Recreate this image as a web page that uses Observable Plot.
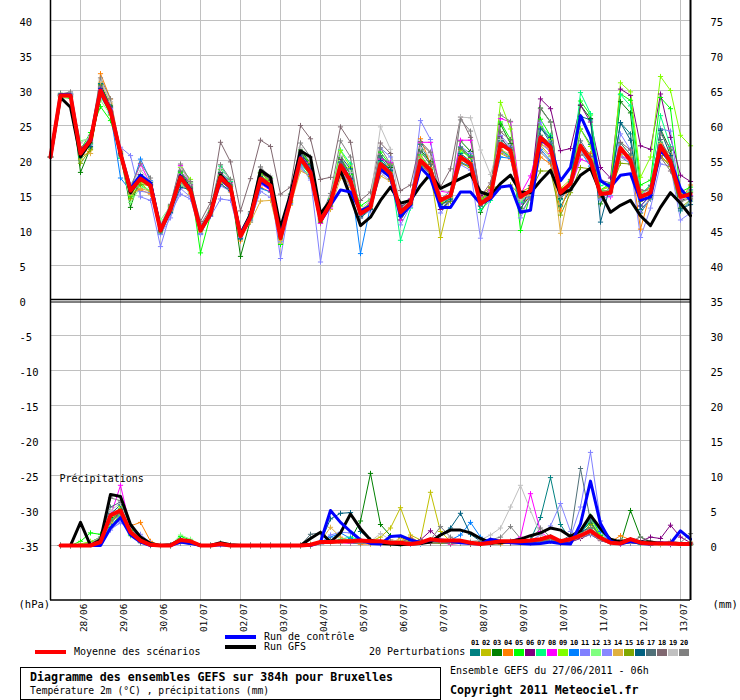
<!DOCTYPE html>
<html><head><meta charset="utf-8">
<script src="https://cdn.jsdelivr.net/npm/d3@7"></script>
<script src="https://cdn.jsdelivr.net/npm/@observablehq/plot@0.6"></script>
<style>
body{margin:0;background:#fff;}
#wrap{position:relative;width:740px;height:700px;background:#fff;font-family:"DejaVu Sans Mono",monospace;color:#000;overflow:hidden;}
#wrap svg{position:absolute;left:0;top:0;}
.lg{position:absolute;white-space:pre;line-height:1;}
</style></head><body><div id="wrap"></div>
<script>
// ---- axis / labels ----
const dateLabels = ["28/06","29/06","30/06","01/07","02/07","03/07","04/07","05/07","06/07","07/07","08/07","09/07","10/07","11/07","12/07","13/07"];
const leftTicks = [40,35,30,25,20,15,10,5,0,-5,-10,-15,-20,-25,-30,-35];
const pertNames = ["01","02","03","04","05","06","07","08","09","10","11","12","13","14","15","16","17","18","19","20"];
const pertColors = ["#008080","#c0c000","#008000","#ff8000","#00ff00","#800080","#00ff80","#ff00ff","#80ff00","#0080ff","#8080ff","#80ff80","#8888ff","#e0b040","#80a800","#006080","#507078","#806870","#c0c0c0","#808080"];

// ---- temperature 2m (°C), 6-hourly, 65 steps ----
const tMean = [20.5,29.3,29.3, 21,22.9,30,27.1, 21,15.7,17.4,16.4, 10,13.1,17.6,15.7, 10,12.4,17.6,16.2, 9.2,11.9,17.4,16.4, 8.9,14.3,20.3,18.3, 11.4,13.9,19.3,17.1, 12.4,13.3,19.5,18.1, 12.6,13.9,20,18.6, 14.3,15,20.5,19.5, 13.8,14.8,22.4,21.4, 14.8,15.7,23.3,21.9, 15.4,16.7,22.1,20, 15.2,15.4,21.8,20, 14.8,15.4,22.1,19.8, 14.8,15.2];
const tCtrl = [20.5,29.4,29.4, 21.2,23,30.2,27.3, 21,16,17.9,16.8, 10.2,13,17.8,15.8, 10.2,12.3,17.4,16, 9.5,12,17,16, 9.2,14.6,20.5,18.5, 11.3,13.6,15.8,15.5, 12.8,13.5,18.8,17.6, 12,13.6,19,17.5, 13.3,13.3,15.5,15.5, 13.8,14.5,16.2,16.4, 12.6,12.9,22.9,22.1, 17.1,19,26.4,23.3, 17.1,16.2,17.9,18.1, 14.3,14.8,21.4,20, 16,14.3];
const tGfs = [20.5,29,27.6, 20.5,22.7,29.8,27, 21,15.4,17.7,16.7, 10,13,17.8,15.8, 10,12.5,17.9,16.2, 9.5,12.3,18.6,17.6, 10.4,15.2,21.4,20.5, 12.4,14.3,18.6,14.8, 10.7,11.9,14.3,16.2, 13.9,14.3,16.4,18.1, 16,16.7,17.4,18.1, 15.5,15,16.7,17.9, 15.5,15.4,17.1,18.6, 15.2,15.8,17.9,18.9, 15.4,12.6,13.6,14.3, 12.1,10.7,13.3,15.4, 13.9,12.1];
const t01 = [20.5,29.5,29.6, 21.8,22.5,31,27.5, 20.5,15.2,17,16.5, 9.5,12.5,16.8,15.6, 10.2,12,18.3,17, 8.8,11.8,17.9,16.8, 9.5,14.5,21,18.6, 11,13.5,19.8,17.5, 11.8,13,20.5,18.5, 12.2,14.5,22.3,19.5, 13.5,14.8,21,19.9, 13.5,15.2,21.5,20.5, 14.8,16,24.8,22.5, 13.5,15.8,24.5,22.3, 14.8,16.2,25.4,23.8, 13,14.5,22.5,19.8, 12.8,14.2];
const t02 = [20.5,29.3,29.2, 20.2,21.5,29.5,26.8, 21.2,14.5,16.8,15.5, 10.5,13.3,17.2,15.2, 9.8,12.8,16.8,15.5, 9.5,12.2,17.8,16.9, 8.2,14,19.8,18, 11.8,14.2,18.5,16.5, 13,13.8,18.8,17.4, 13.2,14.2,19.3,18.2, 9,15,20.4,19, 14.5,15.3,21,20.3, 15.5,16.2,22.2,20.6, 16,17.3,21.4,19.6, 15.8,16.2,20.9,19.4, 15.5,16,21.5,19.2, 15.2,15.6];
const t03 = [20.5,29.6,29.5, 18.3,21.8,30.8,27.9, 20.8,13.3,17.8,16.9, 9.8,13.5,18.4,16.2, 9.5,12.4,18.2,16.5, 6.3,11.5,18.2,17.5, 9.2,15.2,21.5,19.6, 11.2,14.3,20.5,18, 12,13.8,20.7,19, 11.5,13.7,21.5,19.8, 13,14.2,22.8,21.3, 12.6,15,25.2,22.4, 13.2,15,27.5,25.5, 14.6,16.8,27.9,26, 13.8,16.4,28.4,26.8, 12.5,14.6,24.5,21.5, 14.2,14.9];
const t04 = [20.5,29.4,29.5, 22,21,32.4,28.8, 21.5,15.4,15.8,15.2, 10.3,12.8,17,15.5, 10.5,12.5,17,16, 8.5,11.8,16.2,15.5, 8.8,14,20.8,19.7, 11.5,13.5,18.4,16.2, 12.9,13.5,19,19.5, 12.5,14,23.1,19.5, 14.2,14.6,19.8,19, 14.5,14.8,21.4,20.2, 13.8,14.8,20.5,19.5, 12.8,17,21.8,21, 14.8,15.6,21.2,20.5, 10.2,15.5,20.6,19.4, 14.2,16.5];
const t05 = [20.5,29,28.9, 21.5,24,27.7,25.7, 20.8,14.8,16.5,15.5, 10,13.2,18.3,16.8, 6.8,12.2,18.7,17.3, 9.5,12,18.2,17, 8,14.3,21.2,19.5, 11.5,14,20.2,18, 13.5,14.5,21.2,19.3, 12.3,14.2,20.8,18.8, 13,14.5,21.8,20.6, 14.5,15.3,25.5,23, 10,15.2,25.9,23.5, 15.5,17,28.5,26.5, 15.8,16.7,29.5,28.6, 16.5,17.2,29,27.4, 15.5,16.2];
const t06 = [20.5,29.4,29.4, 21.2,23.2,29.8,27, 21,16.3,18,16.5, 10.2,13,17.8,16, 10.3,12.6,18.1,16.8, 9.8,12.5,18.3,17.2, 9.8,14.8,21.2,19, 12,14.5,20.2,17.4, 12.4,13.6,18.5,17.5, 13.5,14,19.6,18, 13,14.3,21.6,20.4, 15,16.2,23.5,21.2, 13.8,15.5,28.8,27.4, 21.4,21.7,27.9,25.5, 19,17.5,30.2,29.3, 22.1,21.6,29.5,23.3, 17.9,17];
const t07 = [20.5,29.2,29.1, 20.5,22.3,29.5,26.6, 20.3,15.8,17.9,16.2, 10.8,13.6,18.5,16.6, 10,12.9,19.2,17, 9,11.7,17.5,16.5, 8.8,13.8,19.3,17.5, 12,14.6,21.5,19.5, 12.5,13.8,19.8,18.6, 8.6,13.2,19,17.4, 14,14.6,21.2,20.7, 13,14.3,21.6,20.5, 14,15.5,24.8,23.6, 14.4,17.2,29.7,26.7, 16.4,16.8,29.4,27.8, 15.2,16.5,26.4,22, 14.7,15.8];
const t08 = [20.5,29.3,29.4, 21.3,23,30.2,27.4, 21.5,16,19.5,16.6, 10.5,13.4,19.3,16.5, 10.2,12,17.3,16.3, 9.3,12,16.7,15.7, 9.4,14.6,20.7,18.2, 11,13.2,18.8,17.1, 12.8,13.9,20.2,19.7, 11.5,14.5,22.6,22.6, 15.6,15.4,22.9,22.9, 14.8,15.8,26,25.5, 15.2,17.8,23.2,21, 15.1,16,20.2,19.6, 15.2,14.8,20.5,20.2, 13.5,15,22,20.2, 14.5,15];
const t09 = [20.5,29.3,29.2, 20.8,22.5,29.3,26.5, 20.8,15,17,16.2, 9.8,12.8,19,17.3, 9.6,12.2,17.8,16.3, 9.6,12.4,18.2,17, 9,14.2,20.5,18.9, 11.5,14.5,21.4,19, 12.6,14.2,19.5,18.3, 12.3,13.8,19.5,18.5, 14,14.9,21.5,20.3, 14.6,15.3,28.3,24.5, 14.7,15.8,24.8,23, 16,16.5,24.5,22, 15.8,16.4,31.1,29.8, 17.6,20.5,32,30, 23.6,22.1];
const t10 = [20.5,29.3,29.3, 21,22.8,29.8,26.8, 17.5,15.7,20.2,17.1, 10.3,13,16.8,15.6, 9.5,12.3,17.4,16.2, 9.5,11.2,16,15.5, 9.5,13.8,19.5,18, 11.7,14.4,18.7,17.3, 6.7,13.5,19,17.9, 13.2,13.6,18.8,17.8, 14.5,14.8,19.7,19.2, 14.3,14.8,20.5,20.3, 14.6,14.8,21.6,20, 15.6,16.9,21.3,19.2, 15.8,15.5,20.5,19.6, 14.5,15.5,21.3,19.5, 15.5,14.9];
const t11 = [20.5,29.3,29.3, 21.5,22.8,29,27, 21.9,20.7,14.8,14.3, 7.7,12.5,15.2,14.5, 9.6,12,14.5,14.3, 9,12.4,16.5,16.5, 6,14.5,18.8,17.5, 5.5,14,17.8,16.5, 11.8,13.7,21.8,20.5, 10.8,13.5,25.7,23, 12.5,14.3,22,21, 15.5,14.9,23.6,22, 11.8,15.1,25.4,22.5, 15.1,16.2,22.2,20.4, 14.4,15.8,23.8,21.5, 12.6,14.6,24.5,24.2, 14.2,15.8];
const t12 = [20.5,29.2,29, 22.8,23.2,28.6,26.5, 20.5,14,16.2,15.8, 11.5,13.5,16.5,15.6, 10.6,12.6,17.2,16, 9.8,12.6,18.5,17.6, 9.4,14.6,20.5,18.6, 11.3,13.7,19,17, 12.6,13.2,19.3,18, 12.9,14.1,20.3,18.9, 14.3,14.6,20.2,19.2, 14.1,15,22.8,21.5, 14.2,15.2,23.6,22.4, 15.8,16.6,22,20.3, 15.8,15.4,22.5,20.8, 14.6,15.2,22.7,20.2, 15.1,15.6];
const t13 = [20.5,29.5,29.6, 21.4,22.2,30.5,27.4, 20.8,16.4,15.6,15.4, 9.4,11.8,16,14.8, 9.4,12.2,16.4,15.6, 9,11.5,15.6,14.7, 8.4,13.8,19.2,17.2, 11.6,13.9,18.5,16.5, 12.3,12.8,18.3,17, 12.6,13.3,18.9,17.6, 13.6,14.3,19.4,18.6, 8.9,14.7,21.2,20.4, 13.8,15,22.4,21.3, 15.2,16.4,21.3,19.8, 14.4,15,21,19.4, 9,13.2,19.5,19.2, 11.5,12.5];
const t14 = [20.5,29.1,29, 20.8,21,31.2,28.2, 21.3,15.2,16,15.6, 10.4,12.9,16.8,15.3, 10,12.4,17.2,15.9, 9.3,11.2,14.2,14.3, 8.6,13.6,18.5,17.8, 12,13,17.5,16.8, 13,13.4,17.8,17, 12.8,13.9,20.5,19, 14.4,14.7,20.5,19.7, 14.8,16.3,21.6,20.8, 14.5,15,22.4,21.6, 9.6,16.5,21.8,20.3, 15,15.4,21.5,20.6, 14.2,15.3,22.4,20.8, 14.7,15.4];
const t15 = [20.5,29.2,29.1, 19.6,21.6,29.4,27.6, 21.2,14.6,16.6,16.4, 10.6,13.5,17.3,15.9, 10.3,12.7,17.6,16.3, 9.4,11.9,17.2,16.2, 9.1,14.1,19.9,17.7, 11.2,13.5,18.8,17, 12.6,13.5,19.3,17.3, 12.7,14.1,20,18.4, 13.8,14.2,19.6,19, 14.2,16.2,16.2,16.5, 15,15.5,18.5,18.5, 12.2,15.4,19,18.8, 15.6,15.7,19.6,19.5, 14.2,14.8,20.7,19.1, 13.2,14.4];
const t16 = [20.5,29.4,29.5, 21.6,22,30.3,27.7, 21,15.6,17.7,16.8, 10,12.6,16.2,15.8, 10.6,12.6,16.6,15.7, 8.8,12.3,17.7,16.7, 9.6,14.8,20.9,19.4, 11.7,14.2,20.6,18.8, 12,13.1,20,18.6, 12,13.9,19.2,17.7, 13.7,14.5,20.7,19.3, 13.5,15.4,22.8,21.5, 12.8,16.4,24.5,23.3, 14.5,16.4,26.3,25.8, 11.2,16.6,25.4,22.9, 13.5,15,24.3,20.7, 13.1,13.7];
const t17 = [20.5,29.3,29.4, 21.9,22.5,29.9,26.9, 20.8,15.5,17.3,16.6, 9.8,13.2,17.5,16.2, 10.1,12.1,17.3,16.5, 9.2,12.1,17.6,16.6, 9.3,14.3,20.7,18.8, 11.8,14.3,19.7,18.2, 12.6,13.6,20.7,19.2, 13.3,14.4,21.3,19.4, 14.4,15.1,21.9,20.6, 14.1,15.4,23.1,21.8, 14.9,15.2,23.6,22.4, 15.2,16.4,22.8,20.6, 15,15.6,22.5,20.8, 14.9,16.4,23,20.2, 15.1,15.4];
const t18 = [20.5,29.2,29.1, 21.8,23.1,30.5,27.6, 21.2,15.8,17.5,17, 10.6,12.8,18.5,16.5, 11.3,14,22.6,19.8, 12.8,17.4,22.9,22, 15.2,16.2,25,23.1, 17.3,17.6,24.8,22.6, 14.3,15.5,22.5,21, 15.7,16.5,22.7,21.2, 16.2,18.8,26.2,23.3, 14.8,16.8,24.1,22.9, 14.6,15.6,21.2,19.8, 15.4,16,20.8,20.6, 17.2,16.8,22.6,21.5, 15.8,15.6,20.5,18.5, 15.1,14.8];
const t19 = [20.5,29.3,29.5, 22.5,23.4,31.5,28.4, 21.5,16.6,18.6,17, 10.8,13.8,19.1,16.8, 10.6,13,18.8,17.2, 9.8,12.6,19,17.8, 9.6,15,21.8,19.8, 11.5,14.8,20.6,18.3, 12.8,14.6,24.8,21.6, 13,14.4,21.8,20.5, 15.8,15.5,26.2,26.1, 21.5,18,23,21.3, 14.5,15.2,21.8,20.5, 14.8,16,21.2,19.8, 15.3,15.8,20.5,19.8, 14.6,15.4,21.4,19.6, 14.6,14.5];
const t20 = [20.5,29.5,29.8, 21.2,23.6,31.8,28.8, 20.8,16.2,19.6,17.5, 10.6,13.7,19.5,17, 10.8,13.2,19.4,17.3, 9.5,12.7,19.1,17.4, 9.3,15.2,22.5,20.5, 11.9,15.3,22.8,20.5, 11.8,14.2,21.8,19.5, 12.1,14.1,22.4,21.1, 14.5,15.6,25.8,24.2, 13.6,15.4,26.5,25.6, 12.5,14.6,27.4,25.5, 14.9,15.8,21.5,19.8, 15.4,15.5,21.5,20.3, 14.7,15.6,23.8,21.8, 14.1,14.6];

// ---- precipitation (mm per 6h), 65 steps ----
const rMean = [null,0,0,0,0, 0.5,4.3,5,1.9,0.7, 0.1,0,0,0.8,0.6, 0,0,0.2,0,0, 0,0,0,0,0, 0,0.1,0.5,0.5,0.6, 0.6,0.7,0.6,0.6,0.4, 0.4,0.2,0.4,0.9,0.7, 0.7,0.7,0.4,0.2,0.4, 0.6,0.6,0.6,0.7,0.9, 1.3,0.6,0.9,1.4,2.1, 1.1,0.4,0.3,0.9,0.4, 0.3,0.3,0.3,0.2,0.2];
const rCtrl = [null,0,0,0,0, 0,2.5,4,1.5,0.5, 0,0,0,0.5,0.3, 0,0,0.1,0,0, 0,0,0,0,0, 0,0,0.5,5,3.3, 2,0.8,0.3,0.2,1.3, 1.4,0.8,0.4,0.8,0.8, 0.6,0.4,0.3,0.2,0.9, 0.6,0.4,0.3,0.2,0.3, 0.5,0.3,0.2,3.1,9.2, 3.1,0.6,0.2,0.6,0.3, 0.2,0.4,0.3,2.1,0.9];
const rGfs = [null,0,0,3.3,0, 0.8,7.3,7,3,1.2, 0.3,0,0.1,0.8,0.5, 0,0,0.4,0.1,0, 0,0,0,0,0, 0,1,1.9,0.5,1.8, 4.5,2.4,0.8,0.3,0.2, 0.1,0.2,0.3,0.5,1.5, 2.2,2.2,1.8,1,0.4, 0.4,0.6,0.9,1.4,1.8, 2.5,2.2,1.3,2.1,4.3, 2.4,0.9,0.5,0.9,0.5, 0.5,0.3,0.3,0.3,0.3];
const r01 = [null,0,0,0,0.2, 0.6,3.8,4.6,1.8,0.6, 0.1,0,0,0.6,0.4, 0,0,0.3,0,0, 0,0,0,0,0, 0,0,0.4,0.8,0.6, 0.5,0.4,0.6,0.3,0.2, 0.3,0.2,0.4,0.8,0.5, 0.3,0.4,0.3,0.2,0.3, 0.4,0.6,0.5,0.8,4, 9.7,3,0.8,1.2,1.8, 0.9,0.3,0.2,0.4,0.2, 0.1,0.2,0.2,0.1,0.1];
const r02 = [null,0,0,0.1,0.4, 1,3.2,4.8,2,0.8, 0.2,0,0,0.4,0.2, 0,0,0.2,0,0, 0,0,0,0,0, 0,0.2,0.5,0.3,0.4, 0.6,0.8,0.6,1.2,2.5, 5.4,1.5,0.8,7.6,2, 0.6,0.4,0.2,0.3,0.2, 0.4,0.3,0.5,0.6,0.8, 0.6,0.4,0.5,1.8,2.6, 1.2,0.5,0.2,0.6,0.3, 0.2,0.1,0.3,0.2,0.1];
const r03 = [null,0,0,0,0.5, 1.2,4,5.2,2.2,0.5, 0,0,0,0.5,0.3, 0,0,0.2,0,0, 0,0,0,0,0, 0,0,0.3,0.6,0.5, 0.8,3.5,10.3,3,1.4, 1.2,0.6,0.3,0.5,0.4, 0.3,0.5,0.4,0.2,0.2, 0.3,0.5,0.4,0.6,0.8, 1.2,0.5,0.8,2,3.2, 1.4,0.4,0.3,5,1.2, 0.5,0.3,0.2,0.4,0.2];
const r04 = [null,0,0,0,0.2, 0.8,2.5,3.8,2.8,3.3, 0.6,0,0,0.4,0.3, 0,0,0.2,0,0, 0,0,0,0,0, 0,0,0.3,0.5,0.4, 0.4,0.2,0.2,0.5,0.8, 0.6,1.2,0.4,0.3,0.5, 0.2,0.3,0.4,0.5,0.3, 0.2,0.4,0.3,0.5,0.6, 0.8,0.4,1.2,1.5,1.8, 0.8,0.5,1.4,0.8,0.4, 0.3,0.5,0.3,0.2,0.2];
const r05 = [null,0,0,0.6,1.8, 1.6,2.6,4.5,1.4,0.5, 0.2,0,0,1.3,0.8, 0,0,0.3,0,0, 0,0,0,0,0, 0,0,0.2,0.4,0.8, 0.6,0.4,0.5,0.4,0.3, 0.2,0.3,0.5,0.6,0.4, 0.5,0.4,0.3,0.4,0.3, 0.3,0.5,0.4,0.6,0.8, 0.9,0.4,0.8,1.5,4.2, 1.5,0.4,0.3,0.5,0.2, 0.2,0.3,0.2,0.2,0.1];
const r06 = [null,0,0,0,0.2, 0.5,3,5,1.8,0.4, 0,0,0,0.6,0.3, 0,0,0.2,0,0, 0,0,0,0,0, 0,0,0.2,0.4,0.5, 0.4,0.3,0.5,0.6,0.4, 0.5,0.4,0.8,2.1,0.8, 0.3,0.4,0.2,0.3,0.2, 0.4,0.3,0.5,0.4,0.6, 0.8,0.3,0.5,1,1.6, 0.7,0.3,0.4,0.8,0.6, 1.2,1,2.9,1.2,0.4];
const r07 = [null,0,0,0,0.4, 1,3.8,4.2,1.6,0.4, 0.1,0,0,0.8,0.5, 0,0,0.2,0,0, 0,0,0,0,0, 0,0,0.3,0.5,0.9, 1.2,0.8,0.5,0.4,0.3, 0.5,0.4,0.3,0.4,0.5, 0.4,0.3,0.5,0.4,0.3, 0.5,0.4,0.6,0.8,0.6, 1,0.6,0.9,1.8,3.5, 1.2,0.5,0.4,0.6,0.3, 0.2,0.4,0.2,0.1,0.1];
const r08 = [null,0,0,0,0.3, 0.7,4.2,8.6,2.5,0.6, 0.1,0,0,0.5,0.3, 0,0,0.3,0,0, 0,0,0,0,0, 0,0,0.2,0.4,0.4, 0.3,0.4,0.3,0.2,0.5, 0.4,0.3,0.5,0.6,0.4, 0.2,0.3,0.4,0.3,0.5, 0.4,0.6,1.2,7.4,2, 0.8,0.5,0.6,1.4,2.2, 0.8,0.3,0.2,0.4,0.3, 0.2,0.2,0.1,0.2,0.1];
const r09 = [null,0,0,0.2,0.6, 0.9,3.4,5.6,2.3,0.8, 0.2,0,0,0.7,0.6, 0,0,0.3,0,0, 0,0,0,0,0, 0,0,0.3,0.6,0.7, 0.9,0.6,0.4,0.3,0.4, 0.6,0.5,0.4,0.3,0.4, 0.4,0.5,0.3,0.4,0.3, 0.5,0.4,0.5,0.6,0.9, 1.1,0.6,0.7,1.6,4, 1.3,0.4,0.3,0.7,0.4, 0.3,0.3,0.2,0.2,0.1];
const r10 = [null,0,0,0,0.2, 0.6,3,4.8,1.9,0.5, 0,0,0,0.4,0.3, 0,0,0.2,0,0, 0,0,0,0,0, 0,0,0.4,1.2,1.8, 1,0.6,0.4,0.3,0.2, 0.3,0.4,0.2,0.5,0.6, 0.8,1.5,3.3,1.2,0.5, 0.3,0.4,0.5,0.6,0.5, 0.7,0.4,0.6,1.5,4, 2,0.4,0.3,0.6,0.3, 0.3,0.2,0.4,0.3,0.2];
const r11 = [null,0,0,0,0.1, 0.4,2.2,3.4,3,1.2, 0.3,0,0,0.3,0.2, 0,0,0.1,0,0, 0,0,0,0,0, 0,0,0.4,1.5,1.9, 1.8,0.6,0.4,0.3,0.2, 0.3,0.2,0.4,0.3,0.5, 0.4,0.3,0.5,0.4,0.3, 0.3,0.5,0.4,0.6,0.8, 1,0.6,1.2,5.5,13.3, 3.5,0.6,0.3,0.5,0.3, 0.2,0.3,0.2,0.2,0.1];
const r12 = [null,0,0,0.1,0.3, 0.8,2.8,4,1.5,0.6, 0.1,0,0,1.5,0.9, 0,0,0.3,0,0, 0,0,0,0,0, 0,0,0.2,0.4,0.5, 0.5,0.3,0.4,0.6,0.5, 0.4,0.5,0.3,0.4,0.3, 0.3,0.4,0.3,0.5,0.4, 0.3,0.5,0.6,0.5,0.7, 0.9,0.5,0.7,1.4,2.4, 0.9,0.4,0.3,0.5,0.2, 0.2,0.3,0.2,0.2,0.1];
const r13 = [null,0,0,0,0.2, 0.5,2.4,3.2,2.5,1.6, 0.4,0,0,0.5,0.2, 0,0,0.1,0,0, 0,0,0,0,0, 0,0,0.2,0.5,0.6, 0.4,0.3,0.3,0.2,0.4, 0.5,0.4,0.3,0.5,0.4, 0.3,0.5,0.4,0.3,0.4, 0.5,0.4,0.6,0.7,1.5, 2.8,6,2,1.2,1.5, 0.8,0.4,0.3,0.5,0.3, 0.3,0.2,0.2,0.1,0.2];
const r14 = [null,0,0,0,0.2, 0.6,3.3,4.4,2,0.5, 0.1,0,0,0.6,0.4, 0,0,0.2,0,0, 0,0,0,0,0, 0,0,0.6,2.6,1.2, 0.6,0.4,0.3,0.5,0.4, 1,0.5,0.4,0.3,0.4, 0.5,0.4,0.3,0.5,0.4, 0.4,0.3,0.5,0.7,0.6, 0.8,0.5,0.7,1.2,2, 0.9,0.5,0.8,0.6,0.4, 0.3,0.4,0.3,0.2,0.5];
const r15 = [null,0,0,0,0.3, 0.7,3.6,4.9,2.1,0.7, 0.1,0,0,0.6,0.4, 0,0,0.2,0,0, 0,0,0,0,0, 0,0,0.3,0.5,0.6, 0.7,0.5,0.4,0.3,0.2, 0.4,0.3,0.5,0.4,0.3, 0.4,0.3,0.4,0.3,0.5, 0.4,0.5,0.4,0.6,0.7, 0.9,0.5,0.8,1.6,3, 1.2,0.5,0.3,0.5,0.3, 0.2,0.3,0.2,0.1,0.2];
const r16 = [null,0,0,0,0.2, 0.6,4.5,5.8,2.4,0.6, 0.1,0,0,0.9,0.5, 0,0,0.2,0,0, 0,0,0,0,0, 0,0,0.5,3.8,4.6, 4.7,2,0.8,0.5,0.4, 0.3,0.5,0.6,0.8,1.5, 2.5,4.6,1.6,0.6,0.3, 0.4,0.3,0.5,0.7,0.9, 1.2,0.6,1,2,2.5, 1.1,0.4,0.3,0.4,0.3, 0.3,0.2,0.2,0.1,0.2];
const r17 = [null,0,0,0,0.3, 0.9,5.5,6.2,2.6,0.8, 0.2,0,0,0.4,0.3, 0,0,0.2,0,0, 0,0,0,0,0, 0,1.6,1.8,0.8,0.5, 0.4,0.3,0.5,0.4,0.3, 0.5,0.3,0.4,0.6,0.4, 0.3,0.5,0.4,0.3,0.4, 0.5,0.4,0.6,0.5,0.8, 1,0.6,1.5,11,3.5, 1,0.4,0.3,0.5,0.3, 0.4,0.3,0.2,0.2,0.2];
const r18 = [null,0,0,0,0.2, 0.6,3.5,4.5,1.8,0.5, 0.1,0,0,0.4,0.2, 0,0,0.2,0,0, 0,0,0,0,0, 0,0,0.3,0.4,0.5, 0.4,0.3,0.5,0.3,0.4, 0.5,1,0.4,0.3,0.4, 0.3,0.4,0.5,0.4,0.3, 0.4,0.3,0.5,0.4,0.6, 0.8,0.4,0.6,1.1,1.6, 0.7,0.3,0.8,0.5,0.4, 0.3,0.3,0.6,0.4,0.2];
const r19 = [null,0,0,0,0.4, 1.2,5,6,2.4,0.8, 0.2,0,0,0.5,0.3, 0,0,0.2,0,0, 0,0,0,0,0, 0,0,0.2,0.4,0.5, 0.4,0.5,0.6,1.7,0.8, 0.5,0.4,0.3,0.6,0.8, 0.5,0.4,0.6,0.8,1.5, 2.5,5.5,8.6,5,1.5, 1,0.6,0.7,1.2,1.8, 0.8,0.4,0.3,0.5,0.4, 0.3,0.2,0.3,0.2,0.2];
const r20 = [null,0,0,0,0.3, 1,6.8,6.4,3,1, 0.2,0,0,0.6,0.4, 0,0,0.2,0,0, 0,0,0,0,0, 0,0,0.3,0.5,0.4, 0.5,0.3,0.4,0.5,0.6, 0.4,0.5,0.6,0.8,2.7, 1.2,0.6,0.4,0.5,0.8, 1.2,2.7,1,0.8,2.5, 1.2,0.6,1,1.8,2.5, 1,0.5,0.4,0.6,1.2, 0.6,0.4,0.5,0.4,1.7];

// ---- build tables ----
const tPert = [t01,t02,t03,t04,t05,t06,t07,t08,t09,t10,t11,t12,t13,t14,t15,t16,t17,t18,t19,t20];
const rPert = [r01,r02,r03,r04,r05,r06,r07,r08,r09,r10,r11,r12,r13,r14,r15,r16,r17,r18,r19,r20];
const PRECIP_OFFSET = 35; // right axis (mm) = left axis + 35
const toRows = (arr, k, off) => arr.map((v, i) => ({i, y: v == null ? null : v - off, m: k, c: pertColors[k]}));
const tRows = tPert.flatMap((a, k) => toRows(a, k, 0));
const rRows = rPert.flatMap((a, k) => toRows(a, k, PRECIP_OFFSET)).filter(d => d.y != null);
const single = (arr, off) => arr.map((v, i) => ({i, y: v == null ? null : v - off})).filter(d => d.y != null);
const dateTicks = dateLabels.map((label, k) => ({i: 3 + 4 * k, label}));
const gridY = leftTicks.filter(v => v !== 0);

const chart = Plot.plot({
  width: 740, height: 632,
  marginLeft: 50, marginRight: 50, marginTop: 0, marginBottom: 32,
  x: {domain: [0, 64], axis: null},
  y: {domain: [-300 / 7, 300 / 7], axis: null},
  color: {type: "identity"},
  style: {fontFamily: "DejaVu Sans Mono", fontSize: "10.5px", background: "white", color: "black"},
  marks: [
    Plot.ruleX(dateTicks, {x: "i", stroke: "#c0c0c0", strokeWidth: 1}),
    Plot.ruleY(gridY, {y: d => d, stroke: "#c0c0c0", strokeWidth: 1}),
    // temperature
    Plot.line(tRows, {x: "i", y: "y", z: "m", stroke: "c", strokeWidth: 1}),
    Plot.dot(tRows, {x: "i", y: "y", stroke: "c", symbol: "plus", r: 1.8, strokeWidth: 1}),
    Plot.line(single(tGfs, 0), {x: "i", y: "y", stroke: "black", strokeWidth: 3}),
    Plot.line(single(tCtrl, 0), {x: "i", y: "y", stroke: "#0000ff", strokeWidth: 3}),
    Plot.line(single(tMean, 0), {x: "i", y: "y", stroke: "#ff0000", strokeWidth: 4}),
    // precipitation
    Plot.line(rRows, {x: "i", y: "y", z: "m", stroke: "c", strokeWidth: 1}),
    Plot.dot(rRows, {x: "i", y: "y", stroke: "c", symbol: "plus", r: 1.8, strokeWidth: 1}),
    Plot.line(single(rGfs, PRECIP_OFFSET), {x: "i", y: "y", stroke: "black", strokeWidth: 3}),
    Plot.line(single(rCtrl, PRECIP_OFFSET), {x: "i", y: "y", stroke: "#0000ff", strokeWidth: 3}),
    Plot.line(single(rMean, PRECIP_OFFSET), {x: "i", y: "y", stroke: "#ff0000", strokeWidth: 4}),
    // frame
    Plot.ruleX([0], {x: d => d, stroke: "black", strokeWidth: 1.5}),
    Plot.ruleX([64], {x: d => d, stroke: "black", strokeWidth: 2}),
    Plot.ruleY([-300 / 7], {y: d => d, stroke: "black", strokeWidth: 1.5, dy: -0.5}),
    Plot.ruleY([0], {y: d => d, stroke: "black", strokeWidth: 1.5, dy: -1}),
    Plot.ruleY([0], {y: d => d, stroke: "black", strokeWidth: 1, dy: 1.5}),
    // tick labels
    Plot.text(leftTicks, {y: d => d, text: d => String(d), frameAnchor: "left", textAnchor: "start", dx: -31, dy: 2, fill: "black"}),
    Plot.text(leftTicks, {y: d => d, text: d => String(d + PRECIP_OFFSET), frameAnchor: "right", textAnchor: "start", dx: 20, dy: 2, fill: "black"}),
    Plot.text(dateTicks, {x: "i", text: "label", frameAnchor: "bottom", rotate: -90, textAnchor: "end", dx: 6, dy: 3, fontSize: 9.5, fill: "black"}),
    Plot.text(["(hPa)"], {text: d => d, frameAnchor: "bottom-left", textAnchor: "start", dx: -32, dy: 7, fill: "black"}),
    Plot.text(["(mm)"], {text: d => d, frameAnchor: "bottom-right", textAnchor: "start", dx: 22, dy: 7, fill: "black"}),
    Plot.text(["Précipitations"], {y: () => -25, text: d => d, frameAnchor: "left", textAnchor: "start", dx: 9, dy: 3, fontSize: 10, fill: "black"})
  ]
});
const wrap = document.getElementById("wrap");
wrap.appendChild(chart);

// ---- legend (below the SVG) ----
function box(x, y, w, h, css) {
  const d = document.createElement("div");
  d.style.cssText = `position:absolute;left:${x}px;top:${y}px;width:${w}px;height:${h}px;${css || ""}`;
  wrap.appendChild(d); return d;
}
function label(text, x, cy, size, bold, anchor, extra) {
  const s = document.createElement("span");
  s.className = "lg"; s.textContent = text;
  s.style.fontSize = size + "px";
  s.style.fontWeight = bold ? "bold" : "normal";
  s.style.top = (cy - 0.49 * size) + "px";
  s.style.left = x + "px";
  if (anchor === "middle") s.style.transform = "translateX(-50%)";
  if (extra) s.style.cssText += extra;
  wrap.appendChild(s); return s;
}
box(225, 635, 31, 4, "background:#0000ff");
label("Run de contrôle", 264, 637, 10);
box(225, 645, 31, 4, "background:#000");
label("Run GFS", 264, 647, 10);
box(35, 650, 31, 4, "background:#ff0000");
label("Moyenne des scénarios", 74, 652, 10);
label("20 Perturbations", 369, 652, 10);
pertNames.forEach((n, k) => {
  box(470 + 11 * k, 649, 10, 7, "background:" + pertColors[k]);
  label(n, 475 + 11 * k, 643.5, 7, true, "middle", "letter-spacing:-0.3px;");
});
box(20, 667, 421, 33, "border:1px solid #000;box-sizing:border-box");
label("Diagramme des ensembles GEFS sur 384h pour Bruxelles", 30, 677.5, 11.6, true);
label("Température 2m (°C) , précipitations (mm)", 30, 691, 9.7);
label("Ensemble GEFS du 27/06/2011 - 06h", 450, 671, 10);
label("Copyright 2011 Meteociel.fr", 450, 691, 11.6, true);
</script></body></html>
